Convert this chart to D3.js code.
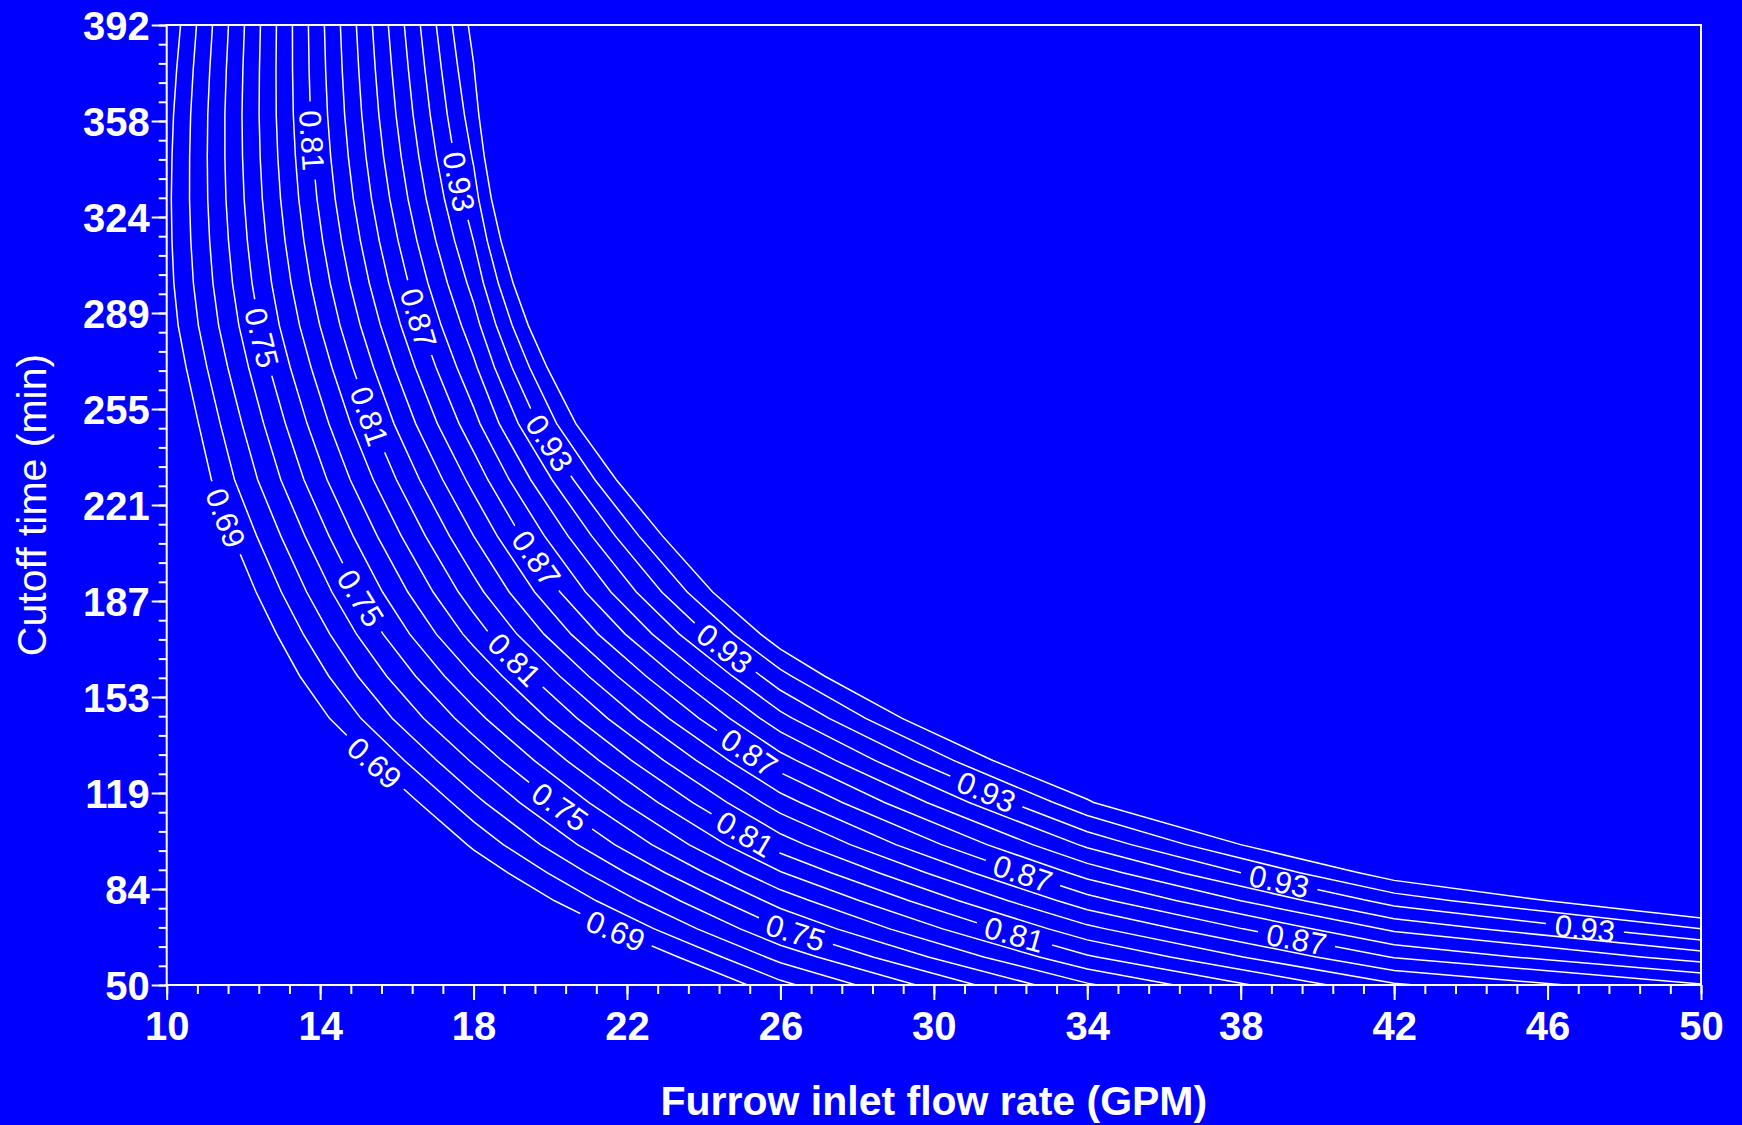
<!DOCTYPE html>
<html>
<head>
<meta charset="utf-8">
<script src="https://cdn.jsdelivr.net/npm/d3@7"></script>
<style>
  html, body { margin: 0; padding: 0; background: #0000ff; }
  svg { display: block; }
  text { font-family: "Liberation Sans", Arial, sans-serif; fill: #fff; }
</style>
</head>
<body>
<div id="chart"></div>
<script>
// grid of the efficiency surface: flow rate columns x cutoff time rows
var flowCols = [10, 18, 26, 34, 42, 50];
var timeRows = [50, 60, 70, 80, 90, 100, 115, 130, 145, 160, 175, 190, 210, 230, 250, 270, 285, 300, 315, 330, 345, 360, 376, 392];

var eff10 = [0.500, 0.510, 0.520, 0.530, 0.540, 0.550, 0.575, 0.595, 0.612, 0.621, 0.628, 0.637, 0.649, 0.661, 0.668, 0.676, 0.6815, 0.6845, 0.6858, 0.6862, 0.6855, 0.684, 0.681, 0.677];
var eff18 = [0.5985, 0.620, 0.642, 0.661, 0.677, 0.693, 0.715, 0.737, 0.759, 0.780, 0.801, 0.819, 0.840, 0.860, 0.880, 0.897, 0.909, 0.920, 0.930, 0.939, 0.9465, 0.953, 0.959, 0.965];
var eff26 = [0.701, 0.725, 0.749, 0.771, 0.794, 0.817, 0.848, 0.879, 0.910, 0.940, 0.971, 1.000, 1.035, 1.075, 1.120, 1.160, 1.195, 1.230, 1.265, 1.300, 1.330, 1.360, 1.390, 1.420];
var eff34 = [0.778, 0.808, 0.836, 0.864, 0.891, 0.918, 0.957, 0.996, 1.036, 1.078, 1.120, 1.160, 1.200, 1.240, 1.280, 1.320, 1.345, 1.370, 1.390, 1.410, 1.440, 1.460, 1.480, 1.500];
var eff42 = [0.838, 0.871, 0.903, 0.936, 0.969, 1.002, 1.100, 1.150, 1.200, 1.250, 1.290, 1.330, 1.370, 1.400, 1.430, 1.460, 1.480, 1.500, 1.510, 1.525, 1.540, 1.550, 1.565, 1.580];
var eff50 = [0.8685, 0.907, 0.945, 0.984, 1.020, 1.060, 1.120, 1.170, 1.220, 1.270, 1.310, 1.350, 1.390, 1.420, 1.450, 1.480, 1.500, 1.520, 1.535, 1.550, 1.560, 1.570, 1.585, 1.600];

var levels = [0.69, 0.705, 0.72, 0.735, 0.75, 0.765, 0.78, 0.795, 0.81, 0.825, 0.84, 0.855, 0.87, 0.885, 0.9, 0.915, 0.93, 0.945, 0.96];

// contour labels: level and where it sits (flow, time)
var labelValue = [0.69, 0.69, 0.69, 0.75, 0.75, 0.75, 0.75, 0.81, 0.81, 0.81, 0.81, 0.81, 0.87, 0.87, 0.87, 0.87, 0.87, 0.93, 0.93, 0.93, 0.93, 0.93, 0.93];
var labelFlow = [11.52, 15.44, 21.71, 12.43, 14.98, 20.14, 26.38, 13.74, 15.13, 18.98, 25.06, 32.07, 16.39, 19.58, 25.18, 32.3, 39.46, 17.47, 19.97, 24.58, 31.33, 39.0, 46.97];
var labelTime = [216.3, 129.4, 69.6, 280.4, 187.2, 111.3, 68.1, 350.8, 251.9, 164.7, 103.4, 66.6, 286.9, 201.4, 132.6, 89, 66.6, 335.8, 243, 170.5, 117.7, 86.8, 69.8];

var xTicks = [10, 14, 18, 22, 26, 30, 34, 38, 42, 46, 50];
var yTickLabels = ["50", "84", "119", "153", "187", "221", "255", "289", "324", "358", "392"];

var W = 1742, H = 1125;
var x = d3.scaleLinear([10, 50], [166.7, 1701]);
var y = d3.scaleLinear([50, 392], [985, 25]);

var svg = d3.select("#chart").append("svg").attr("width", W).attr("height", H);
svg.append("rect").attr("width", W).attr("height", H).attr("fill", "#0000ff");
var defs = svg.append("defs");

defs.append("clipPath").attr("id", "plotClip")
  .append("rect")
  .attr("x", x(10)).attr("y", y(392))
  .attr("width", x(50) - x(10)).attr("height", y(50) - y(392));

// contours
var nx = flowCols.length, ny = timeRows.length;
var cols = [eff10, eff18, eff26, eff34, eff42, eff50];
var grid = [];
for (var j = 0; j < ny; j++) {
  for (var i = 0; i < nx; i++) grid.push(cols[i][j]);
}
var contours = d3.contours().size([nx, ny]).thresholds(levels)(grid);

var colIdx = d3.scaleLinear().domain(d3.range(nx)).range(flowCols);
var rowIdx = d3.scaleLinear().domain(d3.range(ny)).range(timeRows);
function toPx(p) {
  return [x(colIdx(p[0] - 0.5)), y(rowIdx(p[1] - 0.5))];
}
var path = d3.geoPath(d3.geoTransform({
  point: function (a, b) {
    var q = toPx([a, b]);
    this.stream.point(q[0], q[1]);
  }
}));

function placeLabel(c, lx, ly) {
  var px = x(lx), py = y(ly), best = null;
  c.coordinates.forEach(function (poly) {
    poly.forEach(function (ring) {
      for (var k = 1; k < ring.length; k++) {
        var a = toPx(ring[k - 1]), b = toPx(ring[k]);
        var dx = b[0] - a[0], dy = b[1] - a[1], L2 = dx * dx + dy * dy;
        if (!L2) continue;
        var t = Math.max(0, Math.min(1, ((px - a[0]) * dx + (py - a[1]) * dy) / L2));
        var qx = a[0] + t * dx, qy = a[1] + t * dy;
        var d = (qx - px) * (qx - px) + (qy - py) * (qy - py);
        if (!best || d < best.d) best = { d: d, x: qx, y: qy, ang: Math.atan2(dy, dx) * 180 / Math.PI };
      }
    });
  });
  var ang = best.ang;
  if (ang > 90) ang -= 180;
  if (ang <= -90) ang += 180;
  return { x: best.x, y: best.y, ang: ang };
}

var labelLayer = svg.append("g");
var placed = labelValue.map(function (v, k) {
  var c = contours.find(function (cc) { return Math.abs(cc.value - v) < 1e-6; });
  var p = placeLabel(c, labelFlow[k], labelTime[k]);
  var t = labelLayer.append("text")
    .attr("transform", "translate(" + p.x + "," + p.y + ") rotate(" + p.ang + ")")
    .attr("text-anchor", "middle")
    .attr("dy", "0.36em")
    .style("font-size", "31px")
    .text(v.toFixed(2));
  p.w = t.node().getComputedTextLength();
  p.v = v;
  return p;
});

// masks that open a gap in a line under its labels
contours.forEach(function (c, k) {
  var mine = placed.filter(function (p) { return Math.abs(p.v - c.value) < 1e-6; });
  var maskId = null;
  if (mine.length) {
    maskId = "gap" + k;
    var m = defs.append("mask").attr("id", maskId)
      .attr("maskUnits", "userSpaceOnUse")
      .attr("x", 0).attr("y", 0).attr("width", W).attr("height", H);
    m.append("rect").attr("width", W).attr("height", H).attr("fill", "white");
    mine.forEach(function (p) {
      m.append("rect")
        .attr("x", -p.w / 2 - 9).attr("y", -8)
        .attr("width", p.w + 18).attr("height", 16)
        .attr("fill", "black")
        .attr("transform", "translate(" + p.x + "," + p.y + ") rotate(" + p.ang + ")");
    });
  }
  var g = svg.insert("g", function () { return labelLayer.node(); })
    .attr("clip-path", "url(#plotClip)");
  var pth = g.append("path")
    .attr("d", path(c))
    .attr("fill", "none")
    .attr("stroke", "#fff")
    .attr("stroke-width", 1.5);
  if (maskId) pth.attr("mask", "url(#" + maskId + ")");
});

// frame
svg.append("rect")
  .attr("x", x(10)).attr("y", y(392))
  .attr("width", x(50) - x(10)).attr("height", y(50) - y(392))
  .attr("fill", "none").attr("stroke", "#fff").attr("stroke-width", 2);

// x axis
var xMinor = d3.range(10, 50.01, 0.8);
svg.append("g")
  .attr("transform", "translate(0," + y(50) + ")")
  .call(d3.axisBottom(x).tickValues(xMinor).tickSize(9).tickSizeOuter(0).tickFormat(""))
  .call(function (g) { g.select(".domain").remove(); });
var xAxisG = svg.append("g")
  .attr("transform", "translate(0," + y(50) + ")")
  .call(d3.axisBottom(x).tickValues(xTicks).tickSize(15).tickSizeOuter(0).tickFormat(d3.format("d")));
xAxisG.select(".domain").remove();
xAxisG.selectAll("text")
  .attr("y", 55).attr("dy", 0)
  .style("font-size", "40px").style("font-weight", "bold").attr("fill", "#fff");

// y axis
var yStep = (392 - 50) / 10;
var yMajor = d3.range(11).map(function (k) { return 50 + k * yStep; });
var yMinor = d3.range(51).map(function (k) { return 50 + k * yStep / 5; });
svg.append("g")
  .attr("transform", "translate(" + x(10) + ",0)")
  .call(d3.axisLeft(y).tickValues(yMinor).tickSize(8).tickSizeOuter(0).tickFormat(""))
  .call(function (g) { g.select(".domain").remove(); });
var yAxisG = svg.append("g")
  .attr("transform", "translate(" + x(10) + ",0)")
  .call(d3.axisLeft(y).tickValues(yMajor).tickSize(15).tickSizeOuter(0)
    .tickFormat(function (d, k) { return yTickLabels[k]; }));
yAxisG.select(".domain").remove();
yAxisG.selectAll("text")
  .attr("x", -17).attr("dy", "0.36em")
  .style("font-size", "40px").style("font-weight", "bold").attr("fill", "#fff");

svg.selectAll(".tick line").attr("stroke", "#fff").attr("stroke-width", 2);

// axis titles
svg.append("text")
  .attr("x", (x(10) + x(50)) / 2).attr("y", 1115)
  .attr("text-anchor", "middle")
  .style("font-size", "41px").style("font-weight", "bold")
  .text("Furrow inlet flow rate (GPM)");

svg.append("text")
  .attr("transform", "translate(46," + (y(50) + y(392)) / 2 + ") rotate(-90)")
  .attr("text-anchor", "middle")
  .style("font-size", "41px")
  .text("Cutoff time (min)");
</script>
</body>
</html>
